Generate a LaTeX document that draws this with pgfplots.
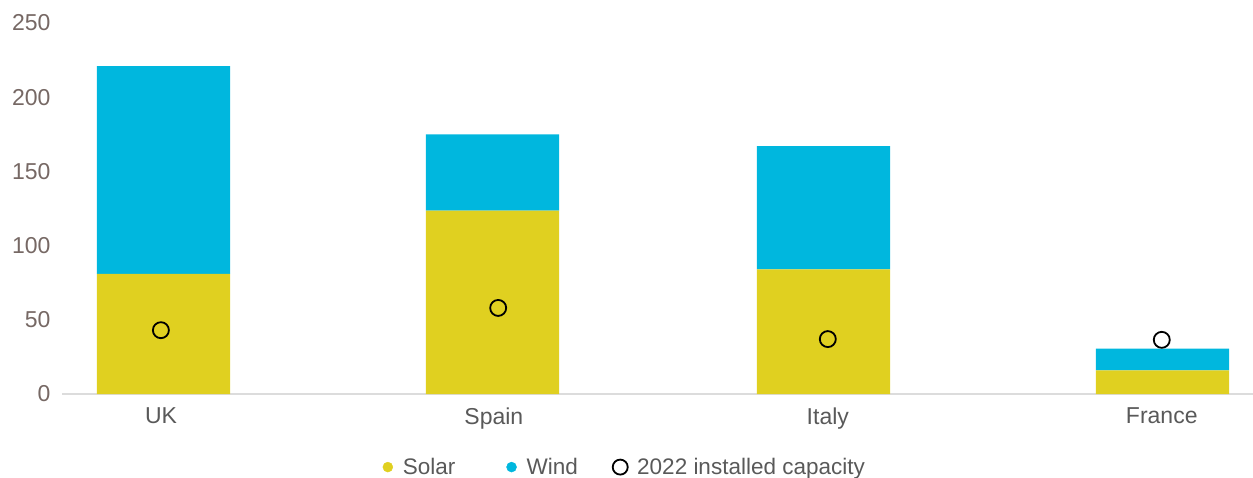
\documentclass[border=0pt]{standalone}
\usepackage{fontspec}
\setmainfont{Liberation Sans}
\usepackage{pgfplots}
\pgfplotsset{compat=1.18}
\definecolor{solar}{RGB}{224,208,32}
\definecolor{wind}{RGB}{0,183,222}
\definecolor{ticklab}{RGB}{118,104,100}
\definecolor{catlab}{RGB}{89,89,89}
\definecolor{axline}{RGB}{220,220,220}
\begin{document}
\begin{tikzpicture}
\useasboundingbox (0,0) rectangle (1253pt,477pt);
\begin{axis}[
  at={(62pt,83pt)}, anchor=south west, scale only axis,
  width=1191pt, height=371pt,
  xmin=-0.305, xmax=3.272, ymin=0, ymax=250,
  ybar stacked, bar width=0.4,
  separate axis lines,
  axis x line*=bottom, axis y line*=left,
  y axis line style={draw=none},
  x axis line style={draw=axline, line width=1.5pt, -},
  major tick length=0pt,
  xtick={-0.0075,0.992,1.995,2.998},
  xticklabels={UK,Spain,Italy,France},
  ytick={0,50,100,150,200,250},
  tick label style={font=\fontsize{23}{27}\selectfont},
  yticklabel style={color=ticklab, xshift=-8pt},
  xticklabel style={color=catlab, yshift=-10pt},
  /pgf/number format/assume math mode=true,
]
\addplot[fill=solar, draw=none] coordinates {(0,81) (0.988,123.5) (1.982,84) (3.0,16)};
\addplot[fill=wind, draw=none] coordinates {(0,140) (0.988,51.5) (1.982,83) (3.0,14.5)};
\end{axis}
\begin{axis}[
  at={(62pt,83pt)}, anchor=south west, scale only axis,
  width=1191pt, height=371pt,
  xmin=-0.305, xmax=3.272, ymin=0, ymax=250,
  hide axis, clip=false,
  legend columns=3,
  legend style={at={(0.4725,-0.197)}, anchor=center, draw=none, fill=none,
    font=\fontsize{22.5}{26}\selectfont, text=catlab,
    /tikz/column 2/.style={column sep=49pt},
    /tikz/column 4/.style={column sep=32pt}},
]
\addlegendimage{legend image code/.code={\fill[solar] (0pt,0pt) circle (5pt); \path[draw=none,fill=none] (-5pt,0pt) -- (13pt,0pt);}}
\addlegendentry{Solar}
\addlegendimage{legend image code/.code={\fill[wind] (0pt,0pt) circle (5pt); \path[draw=none,fill=none] (-5pt,0pt) -- (13pt,0pt);}}
\addlegendentry{Wind}
\addplot[only marks, mark=o, mark size=8pt, mark options={line width=1.8pt, draw=black},
  legend image code/.code={\draw[black, line width=1.8pt] (0pt,0pt) circle (7.5pt); \path[draw=none,fill=none] (-8.4pt,0pt) -- (15pt,0pt);}]
  coordinates {(-0.008,43) (1.005,58) (1.995,37) (2.998,36.5)};
\addlegendentry{2022 installed capacity}
\end{axis}
\end{tikzpicture}
\end{document}
